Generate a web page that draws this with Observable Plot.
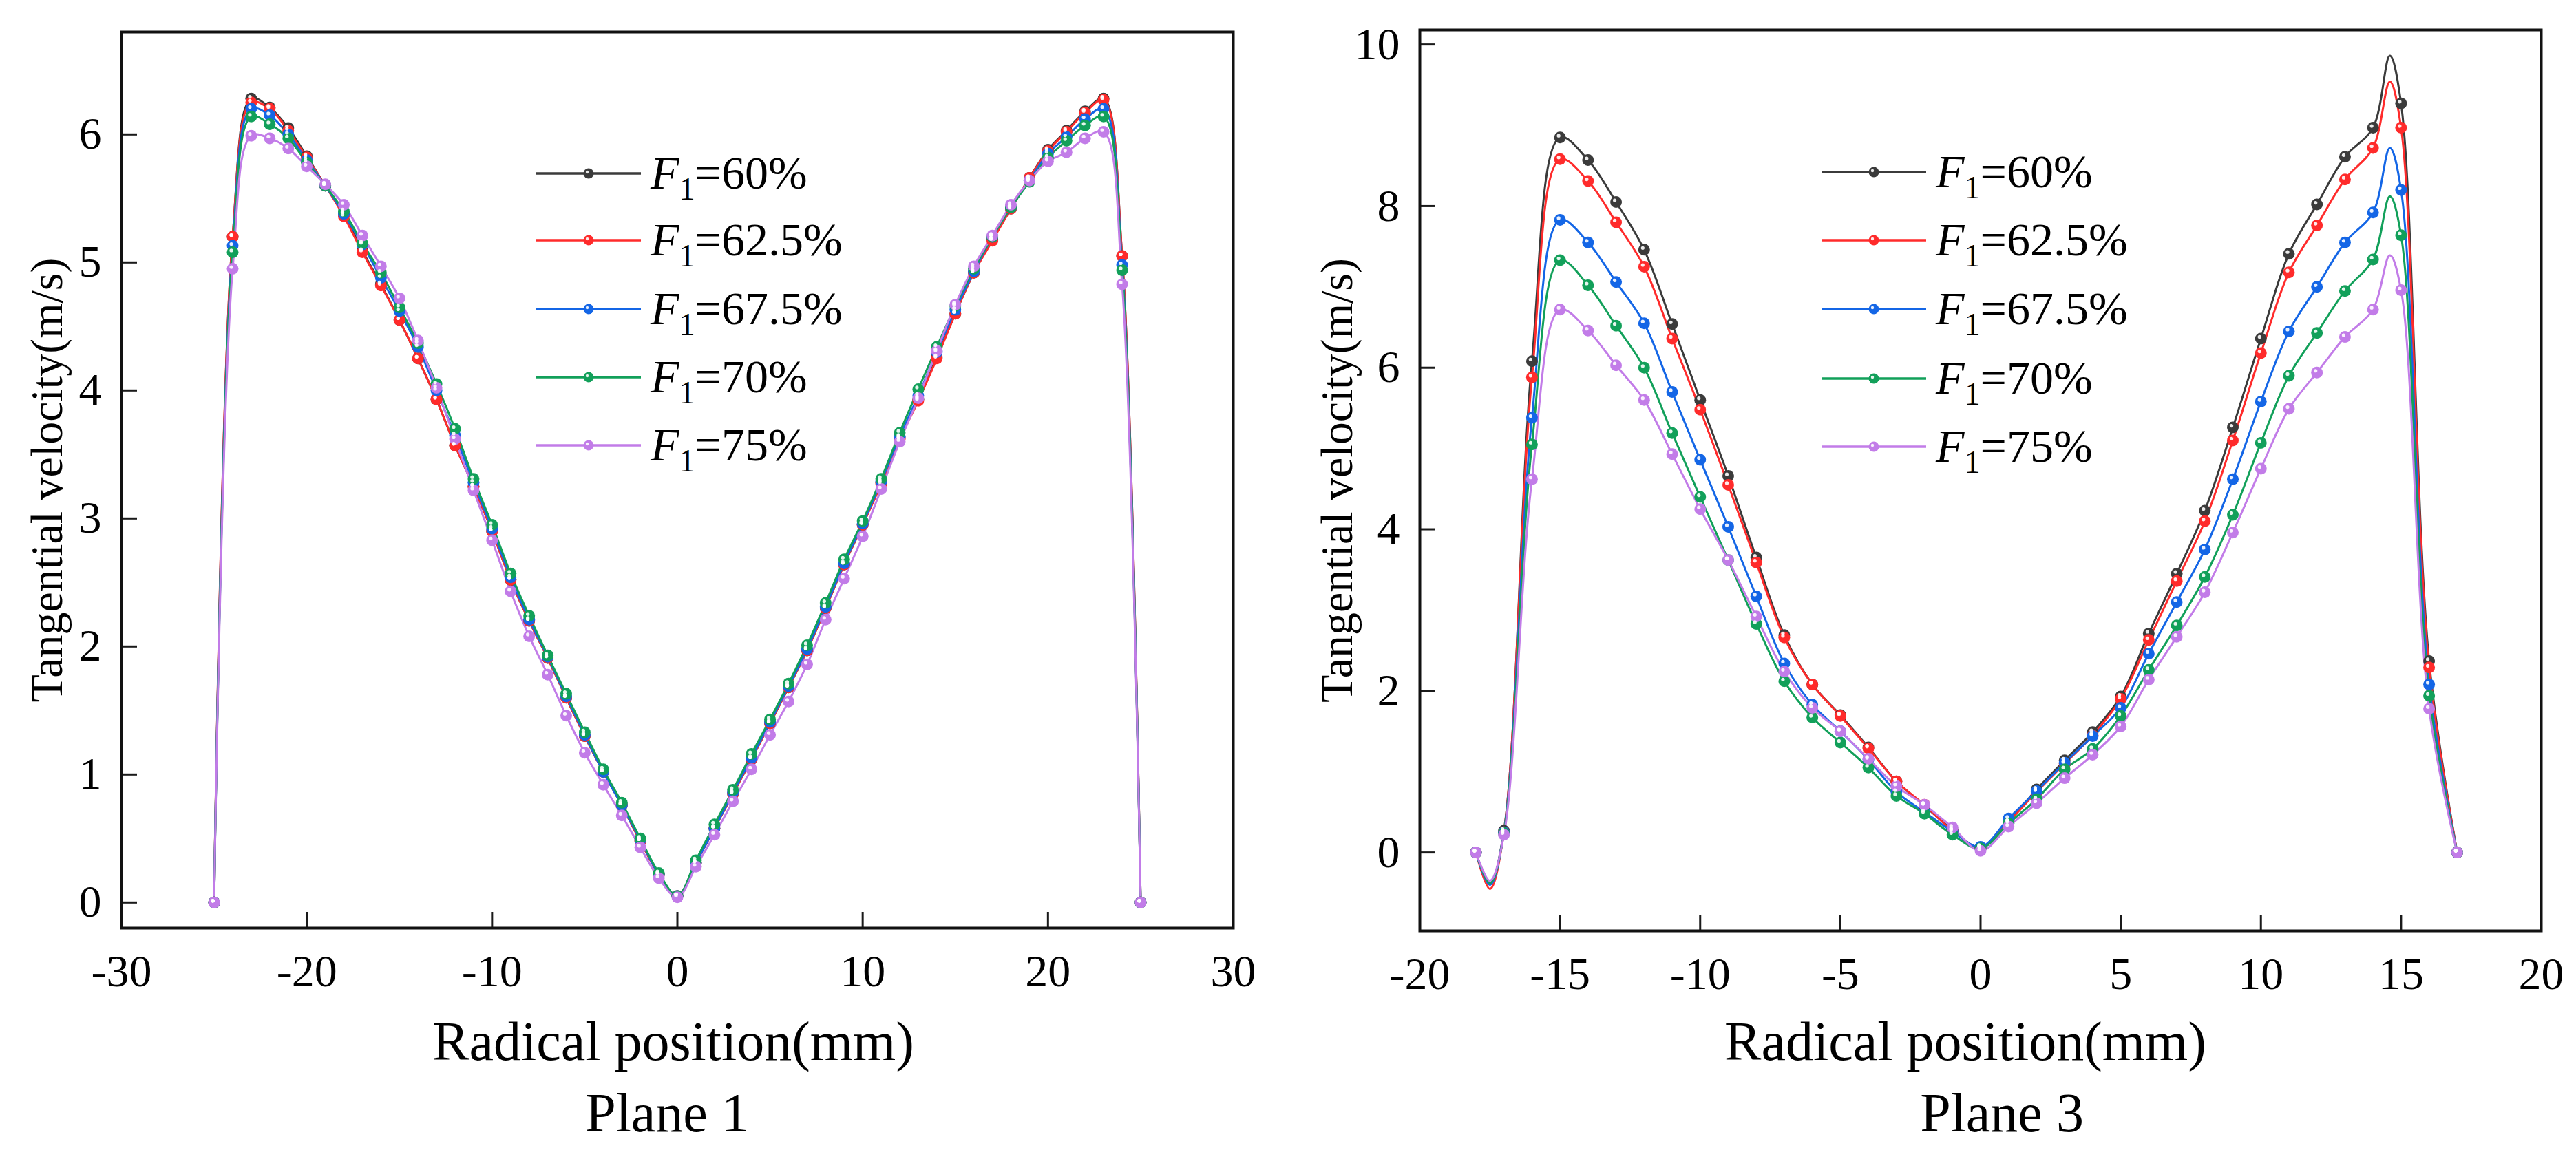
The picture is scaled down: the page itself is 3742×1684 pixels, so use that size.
<!DOCTYPE html>
<html>
<head>
<meta charset="utf-8">
<script src="https://cdn.jsdelivr.net/npm/d3@7"></script>
<script src="https://cdn.jsdelivr.net/npm/@observablehq/plot@0.6"></script>
<style>
  body { margin: 0; background: #fff; }
  #page { position: relative; width: 3742px; height: 1684px; overflow: hidden; background: #fff; }
  .panel { position: absolute; top: 0; }
  #legend { position: absolute; left: 0; top: 0; pointer-events: none; }
</style>
</head>
<body>
<div id="page">
  <div id="plane1" class="panel" style="left:0px"></div>
  <div id="plane3" class="panel" style="left:1880px"></div>
</div>
<script>
// series: inlet split ratio F1
const series = ['60%', '62.5%', '67.5%', '70%', '75%']
const colors = ['#3b3b3b', '#ff2b2b', '#1466e6', '#12a05a', '#c27ce8']

// Plane 1 — radial positions (mm) and tangential velocity (m/s)
const plane1X = [-25, -24, -23, -22, -21, -20, -19, -18, -17, -16, -15, -14, -13, -12, -11, -10, -9, -8, -7, -6, -5, -4, -3, -2, -1,
  0, 1, 2, 3, 4, 5, 6, 7, 8, 9, 10, 11, 12, 13, 14, 15, 16, 17, 18, 19, 20, 21, 22, 23, 24, 25]
const plane1F60 = [0, 5.20, 6.28, 6.21, 6.05, 5.83, 5.60, 5.38, 5.09, 4.83, 4.55, 4.25, 3.93, 3.57, 3.25, 2.90, 2.52, 2.20, 1.91, 1.60, 1.30, 1.02, 0.76, 0.48, 0.22,
  0.05, 0.31, 0.58, 0.85, 1.12, 1.40, 1.68, 1.97, 2.30, 2.64, 2.95, 3.28, 3.63, 3.93, 4.26, 4.60, 4.92, 5.18, 5.42, 5.66, 5.88, 6.03, 6.18, 6.28, 5.05, 0]
const plane1F625 = [0, 5.20, 6.25, 6.20, 6.03, 5.82, 5.60, 5.36, 5.08, 4.82, 4.55, 4.25, 3.93, 3.57, 3.25, 2.90, 2.52, 2.20, 1.91, 1.60, 1.30, 1.02, 0.76, 0.48, 0.22,
  0.05, 0.31, 0.58, 0.85, 1.12, 1.40, 1.68, 1.97, 2.30, 2.64, 2.95, 3.27, 3.62, 3.92, 4.25, 4.60, 4.92, 5.17, 5.42, 5.66, 5.87, 6.02, 6.17, 6.27, 5.05, 0]
const plane1F675 = [0, 5.13, 6.20, 6.15, 6.00, 5.80, 5.60, 5.38, 5.14, 4.88, 4.62, 4.34, 4.00, 3.65, 3.28, 2.92, 2.54, 2.21, 1.92, 1.61, 1.31, 1.02, 0.76, 0.49, 0.22,
  0.05, 0.31, 0.58, 0.86, 1.13, 1.41, 1.69, 1.98, 2.31, 2.65, 2.96, 3.29, 3.64, 3.96, 4.30, 4.63, 4.93, 5.20, 5.43, 5.64, 5.85, 5.98, 6.12, 6.20, 4.98, 0]
const plane1F70 = [0, 5.08, 6.14, 6.08, 5.97, 5.78, 5.60, 5.40, 5.15, 4.92, 4.65, 4.37, 4.05, 3.70, 3.31, 2.95, 2.57, 2.24, 1.93, 1.63, 1.33, 1.04, 0.78, 0.50, 0.23,
  0.05, 0.33, 0.61, 0.88, 1.16, 1.43, 1.71, 2.01, 2.34, 2.68, 2.98, 3.31, 3.67, 4.01, 4.34, 4.66, 4.95, 5.20, 5.43, 5.63, 5.82, 5.95, 6.07, 6.14, 4.94, 0]
const plane1F75 = [0, 4.95, 5.99, 5.97, 5.89, 5.75, 5.61, 5.45, 5.21, 4.97, 4.72, 4.39, 4.02, 3.62, 3.22, 2.83, 2.43, 2.08, 1.78, 1.46, 1.17, 0.92, 0.68, 0.43, 0.19,
  0.04, 0.28, 0.53, 0.79, 1.04, 1.31, 1.57, 1.86, 2.21, 2.53, 2.86, 3.23, 3.60, 3.94, 4.31, 4.67, 4.97, 5.21, 5.45, 5.64, 5.79, 5.86, 5.97, 6.02, 4.83, 0]

// Plane 3 — markers sit on whole millimetres; -17.5 and 14.6 are unmarked curve points
const plane3X = [-18, -17.5, -17, -16, -15, -14, -13, -12, -11, -10, -9, -8, -7, -6, -5, -4, -3, -2, -1,
  0, 1, 2, 3, 4, 5, 6, 7, 8, 9, 10, 11, 12, 13, 14, 14.6, 15, 16, 17]
const plane3F60 = [0, -0.38, 0.27, 6.08, 8.85, 8.57, 8.05, 7.46, 6.54, 5.60, 4.66, 3.65, 2.69, 2.08, 1.70, 1.30, 0.88, 0.58, 0.28,
  0.06, 0.38, 0.78, 1.14, 1.49, 1.93, 2.71, 3.45, 4.23, 5.26, 6.36, 7.41, 8.02, 8.61, 8.97, 9.86, 9.27, 2.37, 0]
const plane3F625 = [0, -0.45, 0.25, 5.88, 8.58, 8.31, 7.80, 7.25, 6.36, 5.48, 4.55, 3.59, 2.66, 2.08, 1.69, 1.29, 0.88, 0.59, 0.27,
  0.06, 0.38, 0.75, 1.10, 1.45, 1.90, 2.63, 3.36, 4.10, 5.10, 6.18, 7.18, 7.76, 8.33, 8.72, 9.54, 8.97, 2.29, 0]
const plane3F675 = [0, -0.40, 0.25, 5.38, 7.83, 7.55, 7.06, 6.55, 5.70, 4.86, 4.03, 3.17, 2.34, 1.83, 1.50, 1.15, 0.75, 0.50, 0.26,
  0.07, 0.42, 0.76, 1.11, 1.44, 1.79, 2.46, 3.10, 3.75, 4.62, 5.58, 6.45, 7.00, 7.55, 7.92, 8.72, 8.20, 2.08, 0]
const plane3F70 = [0, -0.38, 0.24, 5.05, 7.33, 7.02, 6.52, 6.00, 5.19, 4.40, 3.62, 2.83, 2.12, 1.67, 1.36, 1.05, 0.70, 0.48, 0.22,
  0.05, 0.36, 0.66, 1.03, 1.28, 1.69, 2.26, 2.81, 3.41, 4.18, 5.07, 5.90, 6.43, 6.95, 7.34, 8.12, 7.64, 1.94, 0]
const plane3F75 = [0, -0.35, 0.22, 4.62, 6.72, 6.46, 6.03, 5.60, 4.93, 4.25, 3.62, 2.92, 2.24, 1.79, 1.50, 1.16, 0.82, 0.59, 0.31,
  0.02, 0.32, 0.61, 0.92, 1.21, 1.56, 2.14, 2.67, 3.22, 3.96, 4.75, 5.49, 5.94, 6.38, 6.72, 7.39, 6.96, 1.78, 0]

const plane1XTicks = [-30, -20, -10, 0, 10, 20, 30]
const plane1YTicks = [0, 1, 2, 3, 4, 5, 6]
const plane3XTicks = [-20, -15, -10, -5, 0, 5, 10, 15, 20]
const plane3YTicks = [0, 2, 4, 6, 8, 10]

const H = 1684
const serif = "Liberation Serif, Times New Roman, serif"

function panel(xs, ys, o) {
  const rows = []
  series.forEach((s, i) => xs.forEach((x, j) => rows.push({x, v: ys[i][j], s})))
  const marked = rows.filter(d => Number.isInteger(d.x))
  const innerW = o.width - o.marginLeft - o.marginRight
  const innerH = H - o.marginTop - o.marginBottom
  return Plot.plot({
    width: o.width,
    height: H,
    marginLeft: o.marginLeft,
    marginRight: o.marginRight,
    marginTop: o.marginTop,
    marginBottom: o.marginBottom,
    x: {domain: o.xDomain, label: null},
    y: {domain: o.yDomain, label: null},
    color: {domain: series, range: colors},
    style: {fontFamily: serif, color: '#000', background: 'transparent', overflow: 'visible'},
    marks: [
      Plot.ruleX(o.xTicks, {insetTop: innerH - 23, stroke: '#1a1a1a', strokeWidth: 3}),
      Plot.ruleY(o.yTicks, {insetRight: innerW - 23, stroke: '#1a1a1a', strokeWidth: 3}),
      Plot.axisX({ticks: o.xTicks, tickSize: 0, tickPadding: 38, tickFormat: d => String(d), fontSize: 66, fontFamily: serif, label: null}),
      Plot.axisY({ticks: o.yTicks, tickSize: 0, tickPadding: 29, tickFormat: d => String(d), fontSize: 66, fontFamily: serif, label: null}),
      Plot.line(rows, {x: 'x', y: 'v', stroke: 's', strokeWidth: 3, curve: 'catmull-rom'}),
      Plot.dot(marked, {x: 'x', y: 'v', fill: 's', r: 8.5}),
      Plot.dot(marked, {x: 'x', y: 'v', fill: 'white', fillOpacity: 0.9, r: 2.6, dx: -2, dy: -2.5}),
      Plot.frame({stroke: '#111', strokeWidth: 4}),
      Plot.text(['Tangential velocity(m/s)'], {text: d => d, frameAnchor: 'left', textAnchor: 'middle', lineAnchor: 'middle',
        rotate: -90, dx: o.yTitleDx, fontSize: 66, fontFamily: serif}),
      Plot.text(['Radical position(mm)'], {text: d => d, frameAnchor: 'bottom', textAnchor: 'middle', lineAnchor: 'middle',
        dx: o.xTitleDx, dy: o.xTitleDy, fontSize: 80, fontFamily: serif}),
      Plot.text([o.caption], {text: d => d, frameAnchor: 'bottom', textAnchor: 'middle', lineAnchor: 'middle',
        dx: o.capDx, dy: o.capDy, fontSize: 80, fontFamily: serif})
    ]
  })
}

const p1 = panel(plane1X, [plane1F60, plane1F625, plane1F675, plane1F70, plane1F75], {
  width: 1880, marginLeft: 176, marginRight: 89, marginTop: 46, marginBottom: H - 1348,
  xDomain: [-30, 30], yDomain: [-0.2, 6.8], xTicks: plane1XTicks, yTicks: plane1YTicks,
  yTitleDx: -108, xTitleDx: -6, xTitleDy: 166, caption: 'Plane 1', capDx: -15, capDy: 270
})
const p3 = panel(plane3X, [plane3F60, plane3F625, plane3F675, plane3F70, plane3F75], {
  width: 1862, marginLeft: 182, marginRight: 51, marginTop: 43, marginBottom: H - 1352,
  xDomain: [-20, 20], yDomain: [-0.97, 10.18], xTicks: plane3XTicks, yTicks: plane3YTicks,
  yTitleDx: -120, xTitleDx: -22, xTitleDy: 162, caption: 'Plane 3', capDx: 31, capDy: 266
})
d3.select('#plane1').append(() => p1)
d3.select('#plane3').append(() => p3)

// legends (one per panel)
const legendSpots = [
  {x0: 779, tx: 945, rows: [252, 349, 449, 548, 647]},
  {x0: 2646, tx: 2812, rows: [250, 349, 449, 550, 649]}
]
const svg = d3.select('#page').append('svg')
  .attr('id', 'legend').attr('width', 3742).attr('height', H)
  .attr('font-family', serif)
legendSpots.forEach(spot => {
  series.forEach((s, i) => {
    const y = spot.rows[i]
    const g = svg.append('g')
    g.append('line').attr('x1', spot.x0).attr('x2', spot.x0 + 152).attr('y1', y).attr('y2', y)
      .attr('stroke', colors[i]).attr('stroke-width', 3.5)
    g.append('circle').attr('cx', spot.x0 + 76).attr('cy', y).attr('r', 7.5).attr('fill', colors[i])
    g.append('circle').attr('cx', spot.x0 + 74).attr('cy', y - 2).attr('r', 2.2).attr('fill', 'white').attr('fill-opacity', 0.9)
    const t = g.append('text').attr('x', spot.tx).attr('y', y + 22).attr('font-size', 68).attr('fill', '#000')
    t.append('tspan').attr('font-style', 'italic').text('F')
    t.append('tspan').attr('font-size', 46).attr('dy', 16).text('1')
    t.append('tspan').attr('dy', -16).text('=' + s)
  })
})
</script>
</body>
</html>
